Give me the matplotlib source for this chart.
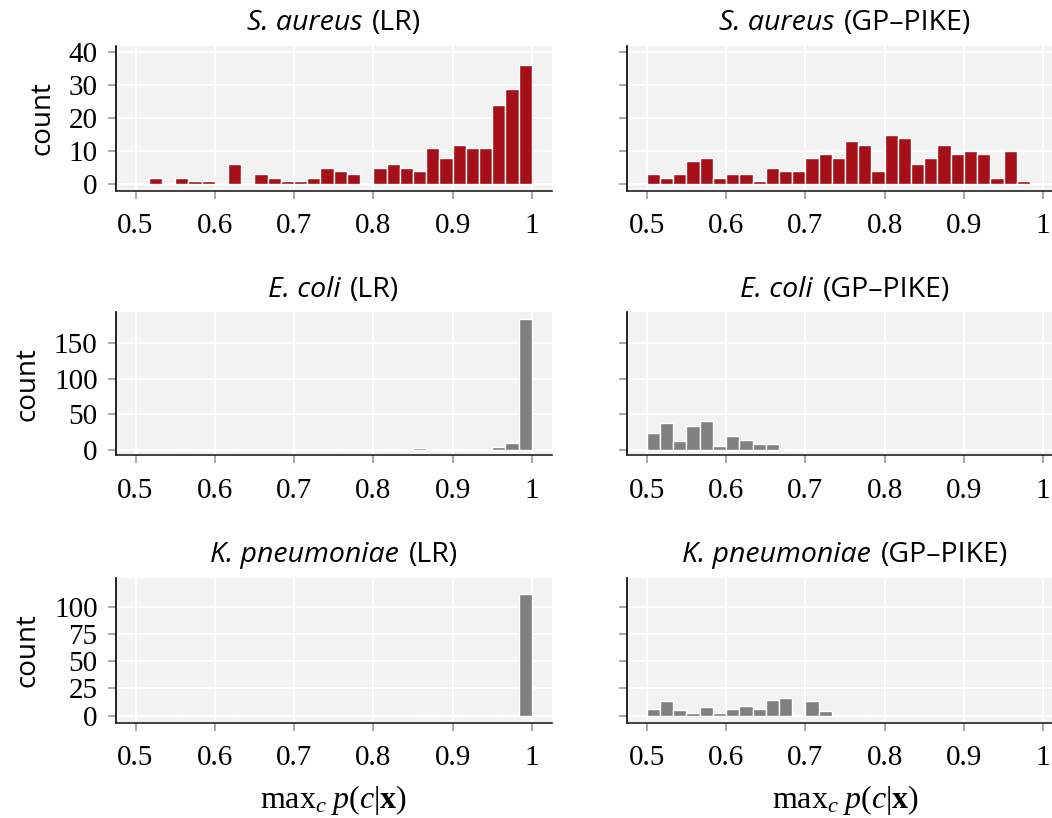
import numpy as np
import matplotlib
matplotlib.use("Agg")
import matplotlib.pyplot as plt
from matplotlib.offsetbox import TextArea, HPacker, AnnotationBbox

plt.rcParams['mathtext.fontset'] = 'custom'
plt.rcParams['mathtext.rm'] = 'Liberation Serif'
plt.rcParams['mathtext.it'] = 'Liberation Serif:italic'
plt.rcParams['mathtext.bf'] = 'Liberation Serif:bold'

# ---- data (30 equal bins between 0.5 and 1.0) ----
bin_lo = 0.5
bin_hi = 1.0
n_bins = 30

sa_lr = [0, 2, 0, 2, 1, 1, 0, 6, 0, 3, 2, 1, 1, 2, 5, 4, 3, 0, 5, 6,
         5, 4, 11, 8, 12, 11, 11, 24, 29, 36]
sa_gp = [3, 2, 3, 7, 8, 2, 3, 3, 1, 5, 4, 4, 8, 9, 8, 13, 12, 4, 15, 14,
         6, 8, 12, 9, 10, 9, 2, 10, 1, 0]
ec_lr = [0, 0, 0, 1, 0, 0, 0, 1, 0, 0, 0, 0, 0, 0, 0, 1, 0, 0, 0, 1,
         0, 2, 1, 0, 1, 0, 0, 4, 10, 184]
ec_gp = [23, 37, 12, 33, 40, 5, 19, 13, 8, 8, 1, 0, 0, 0, 0, 0, 0, 0, 0, 0,
         0, 0, 0, 0, 0, 0, 0, 0, 0, 0]
kp_lr = [0, 0, 0, 1, 0, 0, 0, 1, 0, 0, 0, 0, 0, 0, 0, 0, 0, 0, 0, 0,
         0, 1, 1, 0, 1, 0, 0, 1, 0, 112]
kp_gp = [6, 13, 5, 2, 8, 2, 6, 9, 6, 14, 16, 1, 13, 4, 0, 0, 1, 0, 0, 0,
         0, 0, 0, 0, 0, 0, 0, 0, 0, 0]

species = ["S. aureus", "E. coli", "K. pneumoniae"]
methods = ["LR", "GP\u2013PIKE"]
counts = [[sa_lr, sa_gp], [ec_lr, ec_gp], [kp_lr, kp_gp]]
row_colors = ["#a50f18", "#808080", "#808080"]
row_yticks = [[0, 10, 20, 30, 40], [0, 50, 100, 150], [0, 25, 50, 75, 100]]
row_ylims = [(-2, 42), (-8, 194), (-6.5, 126.5)]
x_ticks = [0.5, 0.6, 0.7, 0.8, 0.9, 1.0]
x_ticklabels = ["0.5", "0.6", "0.7", "0.8", "0.9", "1"]

W, H = 1052, 818
fig = plt.figure(figsize=(W / 100, H / 100), dpi=100)

col_left = [115.7, 627.0]
ax_w = 436.0
row_tops = [45.7, 312.3, 577.7]
row_bots = [190.7, 455.3, 722.7]

serif = "Liberation Serif"
sans = "Open Sans"
edges = np.linspace(bin_lo, bin_hi, n_bins + 1)

for r in range(3):
    for c in range(2):
        rect = [col_left[c] / W, 1 - row_bots[r] / H, ax_w / W,
                (row_bots[r] - row_tops[r]) / H]
        ax = fig.add_axes(rect)
        ax.set_facecolor("#f2f2f2")
        ax.bar(edges[:-1], counts[r][c], width=np.diff(edges), align="edge",
               color=row_colors[r], edgecolor="white", linewidth=1.0, zorder=3)
        ax.set_xlim(0.475, 1.025)
        ax.set_ylim(*row_ylims[r])
        ax.set_xticks(x_ticks)
        ax.set_yticks(row_yticks[r])
        ax.grid(True, color="white", linewidth=1.3, zorder=1)
        ax.set_axisbelow(True)
        for s in ["top", "right"]:
            ax.spines[s].set_visible(False)
        ax.spines["left"].set_color("black")
        ax.spines["bottom"].set_color("#222222")
        ax.spines["left"].set_linewidth(1.2)
        ax.spines["bottom"].set_linewidth(1.2)
        ax.tick_params(axis="both", direction="out", length=6, width=1.2,
                       color="#9a9a9a", labelsize=21)
        ax.tick_params(axis="x", pad=10)
        ax.tick_params(axis="y", pad=7)
        ax.set_xticklabels(x_ticklabels, fontfamily=serif)
        if c == 0:
            ax.set_yticklabels([str(t) for t in row_yticks[r]], fontfamily=serif)
            ax.set_ylabel("count", fontfamily=sans, fontsize=20, labelpad=9)
        else:
            ax.set_yticklabels([])
        if r == 2:
            ax.set_xlabel(r"$\mathrm{max}_c\; p(c|\mathbf{x})$", fontsize=23,
                          labelpad=9)
        # title with italic species name
        t1 = TextArea(species[r], textprops=dict(fontfamily=sans, fontstyle="italic",
                                                 fontsize=20.5, color="black"))
        t2 = TextArea("(" + methods[c] + ")", textprops=dict(fontfamily=sans,
                                                            fontsize=20.5, color="black"))
        pack = HPacker(children=[t1, t2], align="baseline", pad=0, sep=7)
        ab = AnnotationBbox(pack, (0.5, 1.0), xycoords="axes fraction",
                            xybox=(0, 6), boxcoords="offset points",
                            box_alignment=(0.5, 0), frameon=False,
                            annotation_clip=False)
        ax.add_artist(ab)

fig.savefig("out.png", dpi=100)
